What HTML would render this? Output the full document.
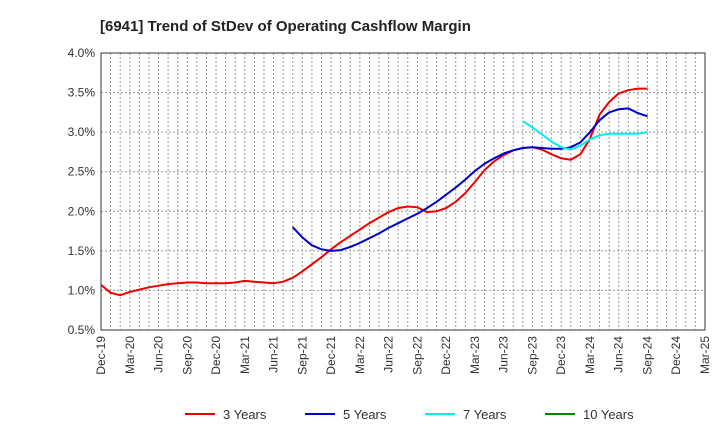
<!DOCTYPE html>
<html><head><meta charset="utf-8"><style>
body{margin:0;background:#fff;font-family:"Liberation Sans",sans-serif;}
</style></head><body>
<svg id="c" width="720" height="440" xmlns="http://www.w3.org/2000/svg">
<text x="100" y="31" font-size="15" font-weight="bold" fill="#222">[6941]  Trend of StDev of Operating Cashflow Margin</text>
<g id="grid"></g><g id="axes"></g><g id="lines"></g><g id="legend"></g>
</svg>
<script>
const yTicks=[0.5,1.0,1.5,2.0,2.5,3.0,3.5,4.0];
const xLabels=["Dec-19","Mar-20","Jun-20","Sep-20","Dec-20","Mar-21","Jun-21","Sep-21","Dec-21","Mar-22","Jun-22","Sep-22","Dec-22","Mar-23","Jun-23","Sep-23","Dec-23","Mar-24","Jun-24","Sep-24","Dec-24","Mar-25"];
const s3Start=0;
const s3=[1.07,0.97,0.94,0.98,1.01,1.04,1.06,1.08,1.09,1.10,1.10,1.09,1.09,1.09,1.10,1.12,1.11,1.10,1.09,1.11,1.16,1.24,1.33,1.42,1.52,1.61,1.69,1.77,1.85,1.92,1.99,2.04,2.06,2.05,1.99,2.00,2.04,2.12,2.23,2.37,2.52,2.63,2.71,2.77,2.80,2.81,2.78,2.72,2.67,2.65,2.72,2.92,3.22,3.38,3.49,3.53,3.55,3.55];
const s5Start=20;
const s5=[1.80,1.67,1.57,1.52,1.50,1.51,1.55,1.60,1.66,1.72,1.79,1.85,1.91,1.97,2.04,2.12,2.21,2.30,2.40,2.51,2.60,2.67,2.73,2.77,2.80,2.81,2.80,2.79,2.79,2.81,2.87,3.00,3.15,3.25,3.29,3.30,3.24,3.20];
const s7Start=44;
const s7=[3.14,3.06,2.97,2.88,2.81,2.78,2.83,2.91,2.96,2.98,2.98,2.98,2.98,3.00];
const s10=[];
const L=101,R=705,T=53,B=330,NM=63;
const xs=m=>L+(R-L)*m/NM;
const ys=v=>B-(B-T)*(v-0.5)/3.5;
const NS="http://www.w3.org/2000/svg";
function mk(t,a,p){const e=document.createElementNS(NS,t);for(const k in a)e.setAttribute(k,a[k]);p.appendChild(e);return e;}
const g=document.getElementById('grid'),ax=document.getElementById('axes'),ln=document.getElementById('lines'),lg=document.getElementById('legend');
for(let m=1;m<NM;m++){const e=mk('line',{x1:xs(m),x2:xs(m),y1:T,y2:B,stroke:'#999','stroke-dasharray':'2,2','stroke-width':1},g);

}
yTicks.forEach(v=>{const e=mk('line',{x1:L,x2:R,y1:ys(v),y2:ys(v),stroke:'#999','stroke-dasharray':'2,2','stroke-width':1},g);


const t=mk('text',{x:L-6,y:ys(v)+4,'text-anchor':'end','font-size':12,fill:'#333'},ax);t.textContent=v.toFixed(1)+'%';

});
const fr=mk('rect',{x:L,y:T,width:R-L,height:B-T,fill:'none',stroke:'#333','stroke-width':1},ax);


xLabels.forEach((s,i)=>{const x=xs(i*3);const t=mk('text',{x:x+4,y:B+6,'text-anchor':'end','font-size':12,fill:'#333',transform:`rotate(-90 ${x+4} ${B+6})`},ax);t.textContent=s;

});
function series(arr,st,col,name){if(!arr.length)return;const d=arr.map((v,i)=>(i?'L':'M')+xs(st+i).toFixed(1)+','+ys(v).toFixed(1)).join('');
const p=mk('path',{d:d,fill:'none',stroke:col,'stroke-width':2,'stroke-linejoin':'round'},ln);

}
series(s3,s3Start,'#e00','line-3-years');
series(s5,s5Start,'#00c','line-5-years');
series(s7,s7Start,'#0ee','line-7-years');
series(s10,0,'#080','line-10-years');
[['3 Years','#e00',185],['5 Years','#00c',305],['7 Years','#0ee',425],['10 Years','#080',545]].forEach(([n,c,x])=>{
const l=mk('line',{x1:x,x2:x+30,y1:414,y2:414,stroke:c,'stroke-width':2},lg);


const t=mk('text',{x:x+38,y:419,'font-size':13,fill:'#333'},lg);t.textContent=n;

});
</script>
</body></html>
